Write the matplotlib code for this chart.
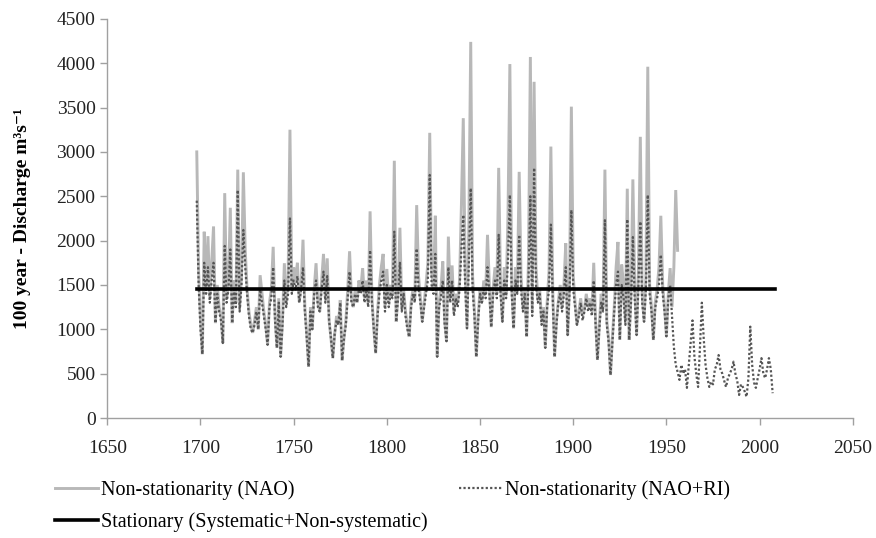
import matplotlib
matplotlib.use("Agg")
import matplotlib.pyplot as plt

plt.rcParams['font.family'] = ['Liberation Serif', 'DejaVu Serif']

# ---- data ----
nao_start = 1698
nao_values = [
    3000, 1650, 1100, 720, 2100, 1450, 2050, 1350, 1750, 2160,   # 1698-1707
    1070, 1500, 1250, 1150, 845, 2535, 1350, 1500, 2370, 1070,   # 1708-1717
    1550, 1300, 2800, 1250, 1600, 2770, 1900, 1450, 1200, 1050,  # 1718-1727
    960, 1100, 1250, 1000, 1610, 1400, 1200, 1050, 825, 1300,    # 1728-1737
    1450, 1930, 1150, 790, 1350, 690, 1100, 1745, 1300, 1550,    # 1738-1747
    3250, 1450, 1700, 1550, 1750, 1310, 1500, 2010, 1250, 950,   # 1748-1757
    580, 1250, 1000, 1450, 1745, 1300, 1200, 1550, 1850, 1350,   # 1758-1767
    1800, 1100, 900, 675, 950, 1150, 1050, 1330, 650, 900,       # 1768-1777
    1100, 1450, 1880, 1350, 1250, 1450, 1300, 1550, 1450, 1690,  # 1778-1787
    1350, 1550, 1300, 2330, 1350, 1000, 730, 1200, 1500, 1700,   # 1788-1797
    1850, 1250, 1680, 1300, 1500, 1400, 2900, 1085, 1400, 2145,  # 1798-1807
    1250, 1450, 1200, 1050, 915, 1300, 1450, 1350, 2400, 1600,   # 1808-1817
    1350, 1085, 1300, 1500, 1750, 3215, 1650, 1450, 2280, 690,   # 1818-1827
    1300, 1450, 1765, 1100, 865, 2045, 1350, 1720, 1200, 1400,   # 1828-1837
    1300, 1550, 2400, 3380, 1700, 1010, 2200, 4240, 1600, 1200,  # 1838-1847
    690, 1150, 1450, 1310, 1550, 1400, 2065, 1500, 1025, 1450,   # 1848-1857
    1700, 1400, 2820, 1500, 1085, 1700, 1400, 2300, 3990, 1500,  # 1858-1867
    1010, 1700, 1450, 2775, 1600, 1250, 1450, 915, 1800, 4070,   # 1868-1877
    1200, 3790, 1700, 1350, 1450, 1100, 1250, 790, 1300, 1650,   # 1878-1887
    3060, 1450, 690, 1100, 1310, 1500, 1250, 1500, 1970, 935,    # 1888-1897
    1500, 3510, 1600, 1300, 1050, 1200, 1350, 1150, 1230, 1400,  # 1898-1907
    1250, 1350, 1200, 1750, 1100, 655, 1050, 1400, 1250, 2800,   # 1908-1917
    1100, 900, 485, 900, 1250, 1700, 1985, 880, 1730, 1500,      # 1918-1927
    1100, 2585, 880, 1400, 2690, 1500, 935, 1700, 3170, 1400,    # 1928-1937
    1085, 1600, 3960, 1500, 1250, 880, 1300, 1450, 1700, 2280,   # 1938-1947
    1500, 1250, 920, 1400, 1690, 1250, 1700, 2570, 1890,         # 1948-1956
]

nao_ri_start = 1698
nao_ri_values = [
    2450, 1500, 1000, 720, 1750, 1400, 1700, 1300, 1550, 1750,   # 1698-1707
    1070, 1400, 1200, 1100, 845, 1940, 1300, 1450, 1900, 1070,   # 1708-1717
    1450, 1250, 2570, 1200, 1500, 2120, 1700, 1400, 1150, 1000,  # 1718-1727
    960, 1050, 1200, 1000, 1450, 1300, 1150, 1000, 825, 1250,    # 1728-1737
    1350, 1700, 1100, 790, 1300, 690, 1050, 1550, 1250, 1400,    # 1738-1747
    2250, 1400, 1550, 1450, 1600, 1300, 1450, 1700, 1200, 900,   # 1748-1757
    580, 1200, 1000, 1400, 1550, 1250, 1200, 1450, 1650, 1300,   # 1758-1767
    1600, 1100, 900, 675, 950, 1100, 1050, 1300, 650, 900,       # 1768-1777
    1050, 1350, 1650, 1300, 1250, 1400, 1300, 1450, 1400, 1550,  # 1778-1787
    1300, 1450, 1250, 1890, 1300, 1000, 730, 1150, 1400, 1550,   # 1788-1797
    1650, 1200, 1500, 1250, 1400, 1350, 2100, 1085, 1350, 1750,  # 1798-1807
    1200, 1400, 1150, 1000, 915, 1250, 1400, 1300, 1910, 1450,   # 1808-1817
    1300, 1085, 1250, 1400, 1550, 2740, 1500, 1400, 1850, 690,   # 1818-1827
    1250, 1350, 1550, 1050, 865, 1700, 1300, 1550, 1150, 1350,   # 1828-1837
    1250, 1450, 1900, 2290, 1500, 1010, 1750, 2590, 1450, 1150,  # 1838-1847
    690, 1100, 1400, 1300, 1450, 1350, 1700, 1400, 1025, 1400,   # 1848-1857
    1550, 1350, 2065, 1400, 1085, 1550, 1350, 1800, 2515, 1400,  # 1858-1867
    1010, 1550, 1400, 2065, 1450, 1200, 1400, 915, 1550, 2500,   # 1868-1877
    1150, 2820, 1500, 1300, 1400, 1050, 1200, 790, 1250, 1450,   # 1878-1887
    2180, 1350, 690, 1050, 1300, 1400, 1200, 1400, 1700, 935,    # 1888-1897
    1400, 2345, 1450, 1250, 1050, 1150, 1300, 1100, 1200, 1350,  # 1898-1907
    1200, 1300, 1150, 1550, 1050, 655, 1000, 1300, 1200, 2230,   # 1908-1917
    1050, 850, 485, 850, 1200, 1500, 1650, 880, 1500, 1350,      # 1918-1927
    1050, 2240, 880, 1300, 2040, 1350, 935, 1500, 2215, 1300,    # 1928-1937
    1085, 1450, 2515, 1400, 1200, 880, 1250, 1350, 1500, 1840,   # 1938-1947
    1400, 1200, 920, 1350, 1500, 1150, 800, 600, 520, 430,       # 1948-1957
    600, 500, 550, 340, 600, 850, 1100, 700, 500, 350,           # 1958-1967
    800, 1300, 900, 600, 450, 350, 410, 380, 550, 600,           # 1968-1977
    710, 550, 500, 420, 350, 450, 500, 550, 635, 500,            # 1978-1987
    420, 260, 380, 350, 300, 240, 450, 1030, 600, 400,           # 1988-1997
    340, 450, 550, 675, 500, 450, 550, 675, 550, 280,            # 1998-2007
]

stationary_years = [1698, 2008]
stationary_values = [1455, 1455]

x_ticks = [1650, 1700, 1750, 1800, 1850, 1900, 1950, 2000, 2050]
y_ticks = [0, 500, 1000, 1500, 2000, 2500, 3000, 3500, 4000, 4500]

nao_years = list(range(nao_start, nao_start + len(nao_values)))
nao_ri_years = list(range(nao_ri_start, nao_ri_start + len(nao_ri_values)))

# ---- figure ----
fig = plt.figure(figsize=(8.76, 5.38), dpi=100)
ax = fig.add_axes([0.1225, 0.223, 0.851, 0.742])

l1, = ax.plot(nao_years, nao_values, color='#b8b8b8', lw=2.1,
              solid_joinstyle='miter', label='Non-stationarity (NAO)')
l2, = ax.plot(nao_ri_years, nao_ri_values, color='#555555', lw=1.6,
              linestyle=(0, (1, 1)), label='Non-stationarity (NAO+RI)')
l3, = ax.plot(stationary_years, stationary_values, color='black', lw=2.6,
              label='Stationary (Systematic+Non-systematic)')

ax.set_xlim(1650, 2050)
ax.set_ylim(0, 4500)
ax.set_xticks(x_ticks)
ax.set_yticks(y_ticks)
ax.tick_params(axis='both', direction='out', length=5, width=1,
               color='#a0a0a0', labelsize=14, labelcolor='#222222')
ax.tick_params(axis='x', pad=11)
for s in ['top', 'right']:
    ax.spines[s].set_visible(False)
for s in ['left', 'bottom']:
    ax.spines[s].set_color('#a0a0a0')
    ax.spines[s].set_linewidth(1)

ax.set_ylabel('100 year - Discharge m\u00b3s\u207b\u00b9',
              fontsize=14, fontweight='bold', labelpad=18,
              family=['Liberation Serif', 'DejaVu Serif'])

fig.legend(handles=[l1, l3, l2], ncol=2, loc='upper left',
           bbox_to_anchor=(0.063, 0.107), frameon=False, fontsize=14.5,
           handlelength=2.15, handletextpad=0.1, columnspacing=1.6,
           labelspacing=0.6, borderaxespad=0, borderpad=0)

fig.savefig('out.png', dpi=100)
